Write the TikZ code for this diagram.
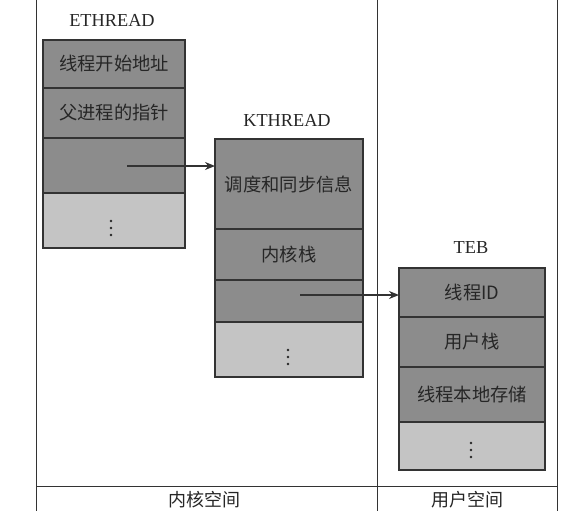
\documentclass[tikz,border=0pt]{standalone}
\usepackage{fontspec}
\setmainfont{Liberation Serif}
\newfontfamily\cjk{Noto Sans CJK SC}
\usetikzlibrary{arrows.meta}
\definecolor{darkcell}{HTML}{8C8C8C}
\definecolor{lightcell}{HTML}{C4C4C4}
\definecolor{inkline}{HTML}{333333}
\definecolor{inktext}{HTML}{262626}
\tikzset{
  cell/.style={draw=inkline, line width=1.2pt, fill=darkcell, anchor=north west,
    inner sep=0pt, outer sep=0pt, text=inktext, font=\cjk\fontsize{18.3}{21}\selectfont},
  lcell/.style={cell, fill=lightcell},
  title/.style={text=inktext, font=\fontsize{18.3}{21}\selectfont},
  space/.style={text=inktext, font=\cjk\fontsize{18}{21}\selectfont},
  frame/.style={draw=inkline, line width=1pt},
  arr/.style={draw=inkline, line width=1.6pt, -{Stealth[length=10pt,width=8pt]}},
  dotmark/.style={circle, fill=inktext, inner sep=0pt, minimum size=2.8pt}
}
\begin{document}
\begin{tikzpicture}[x=1pt,y=-1pt]
\useasboundingbox (0,0) rectangle (572,511);
% frame lines
\coordinate (l0) at (36,0); \coordinate (l1) at (36,511);
\coordinate (m0) at (377,0); \coordinate (m1) at (377,511);
\coordinate (r0) at (557,0); \coordinate (r1) at (557,511);
\coordinate (h0) at (36,486); \coordinate (h1) at (557,486);
\draw[frame] (l0) -- (l1);
\draw[frame] (m0) -- (m1);
\draw[frame] (r0) -- (r1);
\draw[frame] (h0) -- (h1);
\node[space] (ks) at (204,500) {内核空间};
\node[space] (us) at (467,500) {用户空间};
% ETHREAD
\node[title] (et) at (112,20) {ETHREAD};
\node[cell, minimum width=142pt, minimum height=48pt] (e1) at (43,40) {线程开始地址};
\node[cell, minimum width=142pt, minimum height=50pt] (e2) at (43,88) {父进程的指针};
\node[cell, minimum width=142pt, minimum height=55pt] (e3) at (43,138) {};
\node[lcell, minimum width=142pt, minimum height=55pt] (e4) at (43,193) {};
\node[dotmark] (ed1) at (111,221) {};
\node[dotmark] (ed2) at (111,228) {};
\node[dotmark] (ed3) at (111,235) {};
% KTHREAD
\node[title] (kt) at (287,120) {KTHREAD};
\node[cell, minimum width=148pt, minimum height=90pt] (k1) at (215,139) {调度和同步信息};
\node[cell, minimum width=148pt, minimum height=51pt] (k2) at (215,229) {内核栈};
\node[cell, minimum width=148pt, minimum height=42pt] (k3) at (215,280) {};
\node[lcell, minimum width=148pt, minimum height=55pt] (k4) at (215,322) {};
\node[dotmark] (kd1) at (288,350) {};
\node[dotmark] (kd2) at (288,357) {};
\node[dotmark] (kd3) at (288,364) {};
% TEB
\node[title] (tb) at (471,248) {TEB};
\node[cell, minimum width=146pt, minimum height=49pt] (t1) at (399,268) {线程ID};
\node[cell, minimum width=146pt, minimum height=50pt] (t2) at (399,317) {用户栈};
\node[cell, minimum width=146pt, minimum height=55pt] (t3) at (399,367) {线程本地存储};
\node[lcell, minimum width=146pt, minimum height=48pt] (t4) at (399,422) {};
\node[dotmark] (td1) at (471,443) {};
\node[dotmark] (td2) at (471,450) {};
\node[dotmark] (td3) at (471,457) {};
% arrows
\coordinate (ea) at (127,166);
\coordinate (ka) at (300,295);
\draw[arr] (ea) -- (ea -| k1.west);
\draw[arr] (ka) -- (ka -| t1.west);
\end{tikzpicture}
\end{document}
